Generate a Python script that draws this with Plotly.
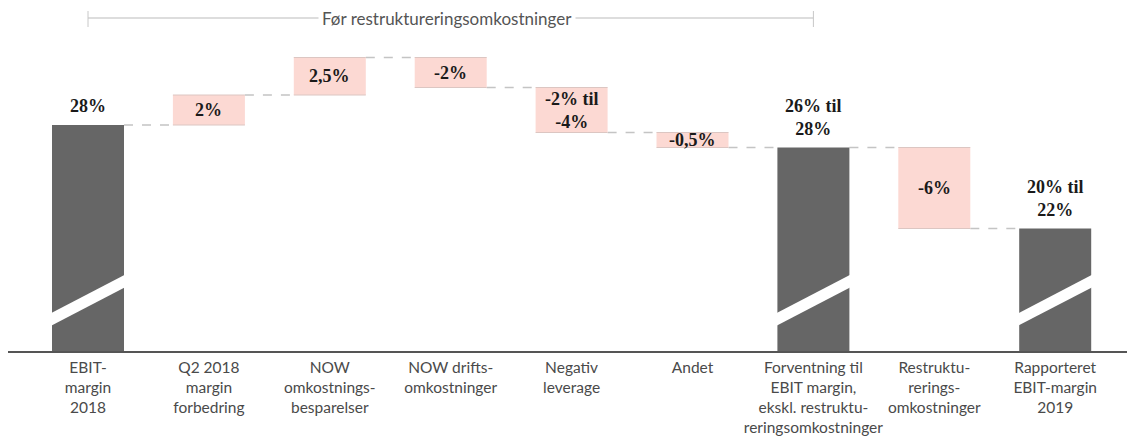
import plotly.graph_objects as go

# ---------------- data ----------------
categories = [
    "EBIT-<br>margin<br>2018",
    "Q2 2018<br>margin<br>forbedring",
    "NOW<br>omkostnings-<br>besparelser",
    "NOW drifts-<br>omkostninger",
    "Negativ<br>leverage",
    "Andet",
    "Forventning til<br>EBIT margin,<br>ekskl. restruktu-<br>reringsomkostninger",
    "Restruktu-<br>rerings-<br>omkostninger",
    "Rapporteret<br>EBIT-margin<br>2019",
]
start_value = 28.0                          # EBIT-margin 2018 (%)
step_values = [2.0, 2.5, -2.0, -3.0, -1.0]  # drawn step heights (%)
restructuring_value = -5.4                  # drawn restructuring step (%)
value_labels = ["28%", "2%", "2,5%", "-2%", "-2% til<br>-4%", "-0,5%",
                "26% til<br>28%", "-6%", "20% til<br>22%"]
bracket_label = "Før restruktureringsomkostninger"

# ---------------- derived waterfall geometry ----------------
totals_x, totals_y = [], []
delta_x, delta_y, delta_base = [], [], []

level = start_value
totals_x.append(0); totals_y.append(level)
for i, s in enumerate(step_values, start=1):
    delta_x.append(i); delta_y.append(s); delta_base.append(level)
    level += s
totals_x.append(6); totals_y.append(level)
delta_x.append(7); delta_y.append(restructuring_value); delta_base.append(level)
level += restructuring_value
totals_x.append(8); totals_y.append(level)

# ---------------- layout constants ----------------
OFF = 8                 # page body margin
W, H = 1135 - OFF, 438 - OFF
PLOT_H = 352 - OFF      # px from figure top to baseline
PX_PER_UNIT_Y = 15.0
PITCH = 120.9           # px per category
FIRST_CENTER = 88.0 - OFF
BAR_W = 72 / PITCH

y_top = start_value + (125 - OFF) / PX_PER_UNIT_Y
y_bottom = y_top - PLOT_H / PX_PER_UNIT_Y
x_left = -FIRST_CENTER / PITCH
x_right = (W - FIRST_CENTER) / PITCH

def py(px):  # reference pixel row -> paper y
    return 1 - (px - OFF) / PLOT_H

def vy(px):  # reference pixel row -> data y
    return y_top - (px - OFF) / PX_PER_UNIT_Y

GRAY = "#666666"
PINK = "#fcd9d3"
DASH = "#c4c4c4"

fig = go.Figure()
fig.add_trace(go.Bar(x=totals_x, y=totals_y, base=[0] * len(totals_x),
                     width=BAR_W, marker=dict(color=GRAY, line=dict(width=0)),
                     hoverinfo="skip"))
fig.add_trace(go.Bar(x=delta_x, y=delta_y, base=delta_base,
                     width=BAR_W, marker=dict(color=PINK, line=dict(width=0)),
                     hoverinfo="skip"))

shapes = []
annotations = []

# level after each bar
after = {}
for x, t in zip(totals_x, totals_y):
    after[x] = t
for x, d, b in zip(delta_x, delta_y, delta_base):
    after[x] = b + d

# dashed connectors
for i in range(8):
    lvl = after[i]
    shapes.append(dict(type="line", xref="x", yref="y",
                       x0=i + BAR_W / 2, x1=i + 1 - BAR_W / 2, y0=lvl, y1=lvl,
                       line=dict(color=DASH, width=1.5, dash="dash"), layer="below"))

# thin edges on the pink boxes
for x, d, b in zip(delta_x, delta_y, delta_base):
    for yy in (b, b + d):
        shapes.append(dict(type="line", xref="x", yref="y",
                           x0=x - BAR_W / 2, x1=x + BAR_W / 2, y0=yy, y1=yy,
                           line=dict(color="#dcc6c2", width=1)))

# axis-break marks on the total bars
for x in totals_x:
    shapes.append(dict(type="line", xref="x", yref="y",
                       x0=x - BAR_W / 2 - 0.08, x1=x + BAR_W / 2 + 0.04,
                       y0=vy(324), y1=vy(279),
                       line=dict(color="white", width=11)))

# baseline
shapes.append(dict(type="line", xref="paper", yref="paper",
                   x0=0, x1=1, y0=0, y1=0,
                   line=dict(color="#555555", width=2)))

# bracket
shapes.append(dict(type="line", xref="x", yref="paper", x0=0, x1=6,
                   y0=py(18), y1=py(18), line=dict(color="#d2d2d2", width=1.5)))
for xx in (0, 6):
    shapes.append(dict(type="line", xref="x", yref="paper", x0=xx, x1=xx,
                       y0=py(11), y1=py(27), line=dict(color="#c8c8c8", width=1)))
annotations.append(dict(x=2.97, y=py(18), xref="x", yref="paper",
                        text=bracket_label, showarrow=False,
                        font=dict(family="Lato", size=17, color="#555555"),
                        bgcolor="white", borderpad=3,
                        xanchor="center", yanchor="middle"))

# value labels
VFONT = dict(family="Liberation Serif", size=18, color="#1a1a1a")
for x, t in zip(totals_x, totals_y):
    annotations.append(dict(x=x, y=t, xref="x", yref="y", text="<b>%s</b>" % value_labels[x],
                            showarrow=False, font=VFONT, yanchor="bottom", yshift=7))
for x, d, b in zip(delta_x, delta_y, delta_base):
    annotations.append(dict(x=x, y=b + d / 2, xref="x", yref="y",
                            text="<b>%s</b>" % value_labels[x],
                            showarrow=False, font=VFONT, yanchor="middle"))

fig.update_layout(
    width=W, height=H,
    margin=dict(l=0, r=0, t=0, b=H - PLOT_H, pad=0),
    paper_bgcolor="white", plot_bgcolor="white",
    showlegend=False, barmode="overlay",
    shapes=shapes, annotations=annotations,
    xaxis=dict(range=[x_left, x_right], tickvals=list(range(9)), ticktext=categories,
               tickfont=dict(family="Lato", size=15.5, color="#4a4a4a"),
               ticklabelstandoff=4,
               showgrid=False, zeroline=False, showline=False, ticks="",
               fixedrange=True),
    yaxis=dict(range=[y_bottom, y_top], visible=False, showgrid=False,
               zeroline=False, fixedrange=True),
)

fig.write_html("out.html")
